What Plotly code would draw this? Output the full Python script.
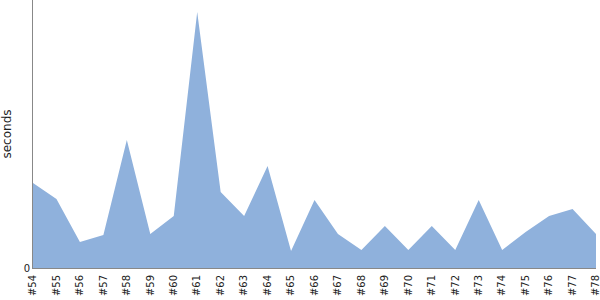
import plotly.graph_objects as go

builds = ["#%d" % n for n in range(54, 79)]
seconds = [85, 69, 26, 33, 128, 34, 52, 256, 76, 52, 102, 17, 68, 34, 18, 42, 18, 42, 18, 68, 18, 36, 52, 59, 34]

fig = go.Figure(go.Scatter(
    x=builds, y=seconds, mode="lines", fill="tozeroy",
    line=dict(width=0, color="#8fb1dc"), fillcolor="#8fb1dc",
))
fig.update_layout(
    width=600, height=300, margin=dict(l=33, r=4, t=0, b=32),
    paper_bgcolor="white", plot_bgcolor="white", showlegend=False,
    font=dict(family="DejaVu Sans", size=10, color="#222"),
)
fig.update_xaxes(type="category", range=[0, 24], showgrid=False, tickangle=-90,
                 showline=True, linecolor="#888", linewidth=1,
                 ticks="outside", ticklen=2, tickcolor="rgba(0,0,0,0)", tickfont=dict(size=10))
fig.update_yaxes(range=[0, 268], showgrid=False, zeroline=False, showline=True,
                 linecolor="#888", linewidth=1, tickvals=[0], ticktext=["0"],
                 title=dict(text="seconds", font=dict(size=12), standoff=12))
fig.write_html("out.html")
